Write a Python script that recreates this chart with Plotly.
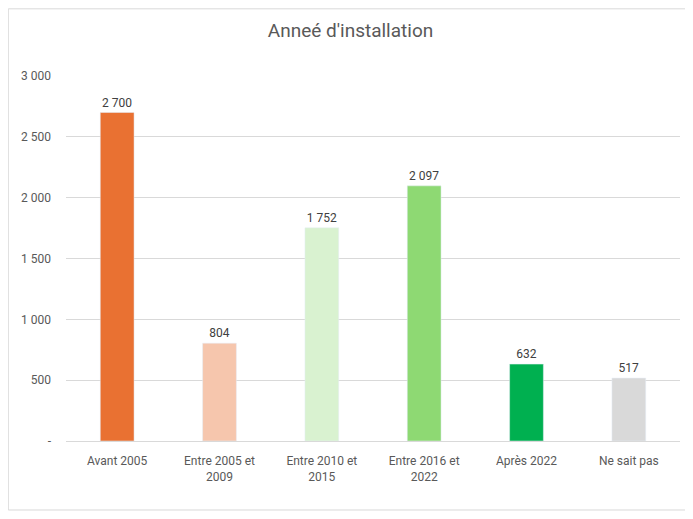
import plotly.graph_objects as go

categories = ["Avant 2005", "Entre 2005 et<br>2009", "Entre 2010 et<br>2015", "Entre 2016 et<br>2022", "Après 2022", "Ne sait pas"]
values = [2700, 804, 1752, 2097, 632, 517]
value_labels = ["2 700", "804", "1 752", "2 097", "632", "517"]
colors = ["#E97132", "#F6C6AD", "#D9F2D0", "#8ED973", "#00B050", "#D9D9D9"]
tick_vals = [0, 500, 1000, 1500, 2000, 2500, 3000]
tick_text = ["-", "500", "1 000", "1 500", "2 000", "2 500", "3 000"]

fig = go.Figure(go.Bar(
    x=categories, y=values, marker_color=colors,
    text=value_labels, textposition="outside",
    textfont=dict(size=12, color="#404040"),
    cliponaxis=False,
))

fig.update_layout(
    width=685, height=511,
    title=dict(text="Anneé d'installation", x=0.5, xanchor="center", y=0.957, yanchor="middle",
               font=dict(size=19, color="#595959", family="Roboto")),
    font=dict(family="Roboto", size=12, color="#595959"),
    plot_bgcolor="white", paper_bgcolor="white",
    margin=dict(l=58, r=13, t=68, b=78),
    bargap=0.67,
    showlegend=False,
    shapes=[dict(type="rect", xref="paper", yref="paper", x0=-0.094, x1=1.016, y0=-0.189, y1=1.184,
                 line=dict(color="#D9D9D9", width=1))],
)
fig.update_yaxes(range=[0, 3000], tickvals=tick_vals, ticktext=tick_text, showgrid=True,
                 gridcolor="#D9D9D9", zeroline=False, ticks="", showline=False,
                 tickfont=dict(size=12, color="#595959"), ticklabelstandoff=14)
fig.update_xaxes(showline=True, linecolor="#D9D9D9", ticks="", ticklabelstandoff=9,
                 tickfont=dict(size=12, color="#595959"))

fig.write_html("out.html")
